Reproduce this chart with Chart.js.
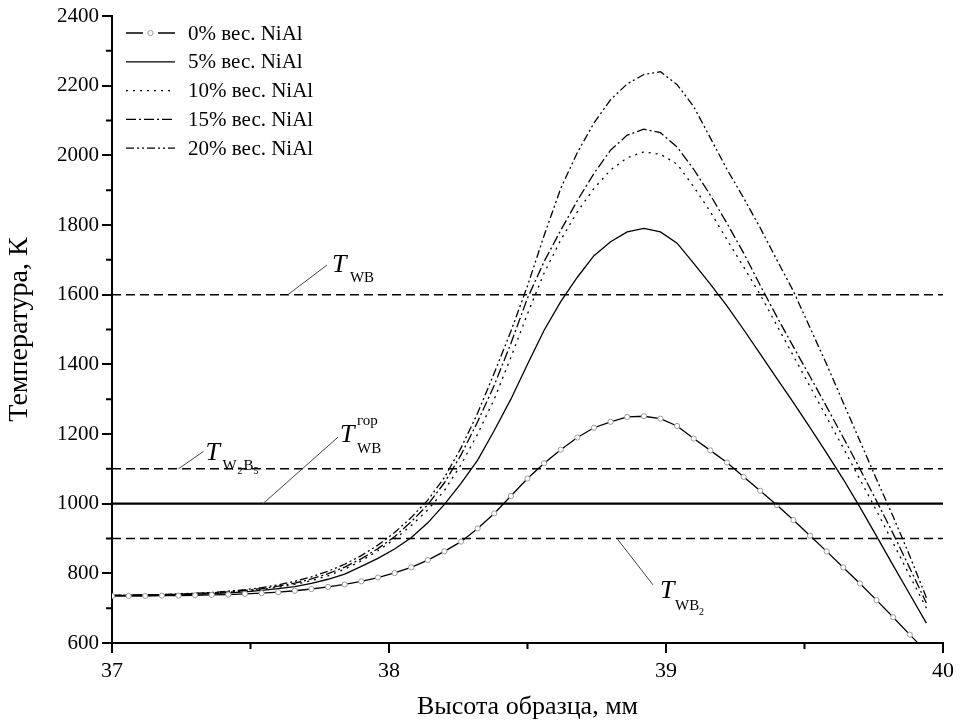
<!DOCTYPE html>
<html>
<head>
<meta charset="utf-8">
<script src="https://cdn.jsdelivr.net/npm/chart.js@4/dist/chart.umd.min.js"></script>
<style>
  body { margin: 0; background: #fff; }
  #wrap { width: 960px; height: 728px; }
</style>
</head>
<body>
<div id="wrap"><canvas id="chart"></canvas></div>
<script>
// Sample height, mm
const heights = [37.00, 37.06, 37.12, 37.18, 37.24, 37.30, 37.36, 37.42, 37.48, 37.54,
                 37.60, 37.66, 37.72, 37.78, 37.84, 37.90, 37.96, 38.02, 38.08, 38.14,
                 38.20, 38.26, 38.32, 38.38, 38.44, 38.50, 38.56, 38.62, 38.68, 38.74,
                 38.80, 38.86, 38.92, 38.98, 39.04, 39.10, 39.16, 39.22, 39.28, 39.34,
                 39.40, 39.46, 39.52, 39.58, 39.64, 39.70, 39.76, 39.82, 39.88, 39.94];

// Temperature, K for each NiAl content
const temp0 = [735, 735, 735, 736, 736, 737, 738, 739, 741, 743,
               746, 750, 755, 761, 768, 777, 788, 801, 817, 838,
               863, 891, 929, 972, 1022, 1072, 1116, 1155, 1190, 1218,
               1235, 1249, 1251, 1244, 1223, 1187, 1153, 1118, 1077, 1037,
               996, 953, 908, 863, 817, 771, 723, 674, 624, 575];
const temp5 = [737, 737, 738, 738, 739, 740, 742, 744, 747, 751,
               756, 762, 771, 783, 798, 820, 843, 870, 902, 945,
               998, 1058, 1125, 1210, 1300, 1400, 1498, 1580, 1650, 1712,
               1752, 1780, 1790, 1780, 1748, 1690, 1630, 1568, 1500, 1430,
               1360, 1290, 1218, 1145, 1070, 990, 907, 823, 740, 657];
const temp10 = [737, 737, 738, 739, 740, 741, 743, 746, 749, 754,
                760, 768, 779, 793, 812, 836, 865, 898, 937, 982,
                1038, 1112, 1200, 1300, 1420, 1545, 1662, 1757, 1838, 1905,
                1958, 1993, 2010, 2003, 1975, 1910, 1838, 1758, 1680, 1600,
                1512, 1424, 1336, 1248, 1160, 1070, 980, 887, 793, 700];
const temp15 = [737, 737, 738, 739, 740, 742, 744, 747, 751, 756,
                763, 772, 784, 799, 818, 842, 871, 905, 948, 997,
                1060, 1140, 1235, 1340, 1460, 1590, 1695, 1785, 1870, 1948,
                2015, 2058, 2075, 2065, 2024, 1960, 1886, 1805, 1720, 1627,
                1537, 1450, 1365, 1278, 1190, 1100, 1008, 914, 815, 715];
const temp20 = [737, 737, 738, 739, 741, 743, 745, 749, 753, 759,
                767, 777, 790, 806, 826, 851, 881, 917, 960, 1010,
                1075, 1160, 1260, 1375, 1495, 1625, 1770, 1905, 2008, 2093,
                2160, 2205, 2232, 2240, 2203, 2140, 2050, 1960, 1878, 1792,
                1700, 1610, 1505, 1400, 1290, 1180, 1070, 963, 850, 730];

const seriesNames = ['0% вес. NiAl', '5% вес. NiAl', '10% вес. NiAl', '15% вес. NiAl', '20% вес. NiAl'];

// Reference temperatures: T_WB, T_W2B5, T_WB^гор, T_WB2
const levelTemps = [1600, 1100, 1000, 900];

// Axis ticks
const xTicks = [37, 38, 39, 40];
const xMinor = [37.5, 38.5, 39.5];
const yTicks = [600, 800, 1000, 1200, 1400, 1600, 1800, 2000, 2200, 2400];
const yMinor = [700, 900, 1100, 1300, 1500, 1700, 1900, 2100, 2300];

const FONT = '"Liberation Serif", "Times New Roman", serif';
Chart.defaults.font.family = FONT;
Chart.defaults.color = '#000';

const dashes = [[], [], [2, 5], [10, 3, 2, 3], [8, 3, 2, 3, 2, 3]];
const allTemps = [temp0, temp5, temp10, temp15, temp20];

const toPoints = vals => vals.map((v, i) => ({ x: heights[i], y: v }));

const curveSets = allTemps.map((vals, i) => ({
    label: seriesNames[i],
    data: toPoints(vals),
    borderColor: '#000',
    borderWidth: 1.3,
    borderDash: dashes[i],
    pointRadius: i === 0 ? 2.6 : 0,
    pointBackgroundColor: '#fff',
    pointBorderColor: '#9a9a9a',
    pointBorderWidth: 1,
    tension: 0
}));

const levelSets = levelTemps.map(t => ({
    label: 'level',
    data: [{ x: xTicks[0], y: t }, { x: xTicks[xTicks.length - 1], y: t }],
    borderColor: '#000',
    borderWidth: t === 1000 ? 2.4 : 1.5,
    borderDash: t === 1000 ? [] : [9, 5],
    pointRadius: 0
}));

// Labels for the reference lines (leader from line point to label corner)
const notes = [
    { from: [37.635, 1600], to: [37.776, 1685], parts: [
        ['T', 'italic 26px', 5, 7], ['WB', '15px', 23, 17]] },
    { from: [37.24, 1100], to: [37.33, 1150], parts: [
        ['T', 'italic 26px', 2, 9], ['W', '15px', 19, 19], ['2', '10px', 34, 23],
        ['B', '15px', 40, 19], ['5', '10px', 50, 23]] },
    { from: [37.545, 1000], to: [37.816, 1191], parts: [
        ['T', 'italic 26px', 2, 5], ['гор', '15px', 19, -12], ['WB', '15px', 19, 16]] },
    { from: [38.823, 900], to: [38.953, 767], parts: [
        ['T', 'italic 26px', 7, 13], ['WB', '15px', 22, 25], ['2', '10px', 46, 30]] }
];

const extrasPlugin = {
    id: 'extras',
    afterDraw(chart) {
        const ctx = chart.ctx;
        const xs = chart.scales.x, ys = chart.scales.y;
        const area = chart.chartArea;
        ctx.save();

        // minor ticks
        ctx.strokeStyle = '#000';
        ctx.lineWidth = 2;
        ctx.beginPath();
        xMinor.forEach(v => {
            const px = xs.getPixelForValue(v);
            ctx.moveTo(px, area.bottom);
            ctx.lineTo(px, area.bottom + 6);
        });
        yMinor.forEach(v => {
            const py = ys.getPixelForValue(v);
            ctx.moveTo(area.left, py);
            ctx.lineTo(area.left - 6, py);
        });
        ctx.stroke();

        // annotations
        notes.forEach(n => {
            const x0 = xs.getPixelForValue(n.from[0]), y0 = ys.getPixelForValue(n.from[1]);
            const x1 = xs.getPixelForValue(n.to[0]), y1 = ys.getPixelForValue(n.to[1]);
            ctx.strokeStyle = '#444';
            ctx.lineWidth = 1;
            ctx.beginPath();
            ctx.moveTo(x0, y0);
            ctx.lineTo(x1, y1);
            ctx.stroke();
            ctx.fillStyle = '#000';
            ctx.textBaseline = 'alphabetic';
            ctx.textAlign = 'left';
            n.parts.forEach(p => {
                ctx.font = p[1] + ' ' + FONT;
                ctx.fillText(p[0], x1 + p[2], y1 + p[3]);
            });
        });

        // legend
        ctx.font = '21px ' + FONT;
        ctx.textBaseline = 'middle';
        curveSets.forEach((ds, i) => {
            const y = 33 + i * 28.8;
            ctx.strokeStyle = '#000';
            ctx.lineWidth = 1.3;
            ctx.setLineDash(ds.borderDash);
            ctx.beginPath();
            if (i === 0) {
                ctx.moveTo(126, y); ctx.lineTo(143, y);
                ctx.moveTo(158, y); ctx.lineTo(175, y);
            } else {
                ctx.moveTo(126, y); ctx.lineTo(175, y);
            }
            ctx.stroke();
            ctx.setLineDash([]);
            if (i === 0) {
                ctx.beginPath();
                ctx.arc(150.5, y, 2.6, 0, Math.PI * 2);
                ctx.fillStyle = '#fff';
                ctx.fill();
                ctx.strokeStyle = '#9a9a9a';
                ctx.lineWidth = 1;
                ctx.stroke();
            }
            ctx.fillStyle = '#000';
            ctx.fillText(ds.label, 188, y + 1);
        });
        ctx.restore();
    }
};

window.addEventListener('load', () => {
    const ctx = document.getElementById('chart').getContext('2d');
    new Chart(ctx, {
        type: 'line',
        data: { datasets: [...levelSets, ...curveSets] },
        options: {
            responsive: true,
            maintainAspectRatio: false,
            animation: false,
            layout: { padding: { top: 16, right: 17, left: 0, bottom: 0 } },
            plugins: { legend: { display: false }, tooltip: { enabled: false } },
            scales: {
                x: {
                    type: 'linear',
                    min: 37, max: 40,
                    afterBuildTicks: s => { s.ticks = xTicks.map(v => ({ value: v })); },
                    afterFit: s => { s.height = 85; },
                    grid: { drawOnChartArea: false, drawTicks: true, tickLength: 10, color: '#000', lineWidth: 2 },
                    border: { color: '#000', width: 2 },
                    ticks: { font: { size: 22 }, padding: 5, maxRotation: 0, callback: v => String(v) },
                    title: { display: true, text: 'Высота образца, мм', font: { size: 26 }, padding: { top: 0, bottom: 5 } }
                },
                y: {
                    min: 600, max: 2400,
                    afterBuildTicks: s => { s.ticks = yTicks.map(v => ({ value: v })); },
                    afterFit: s => { s.width = 112; },
                    grid: { drawOnChartArea: false, drawTicks: true, tickLength: 10, color: '#000', lineWidth: 2 },
                    border: { color: '#000', width: 2 },
                    ticks: { font: { size: 21 }, padding: 3, callback: v => String(v) },
                    title: { display: true, text: 'Температура, К', font: { size: 28 }, padding: { top: 3, bottom: 0 } }
                }
            }
        },
        plugins: [extrasPlugin]
    });
});
</script>
</body>
</html>
